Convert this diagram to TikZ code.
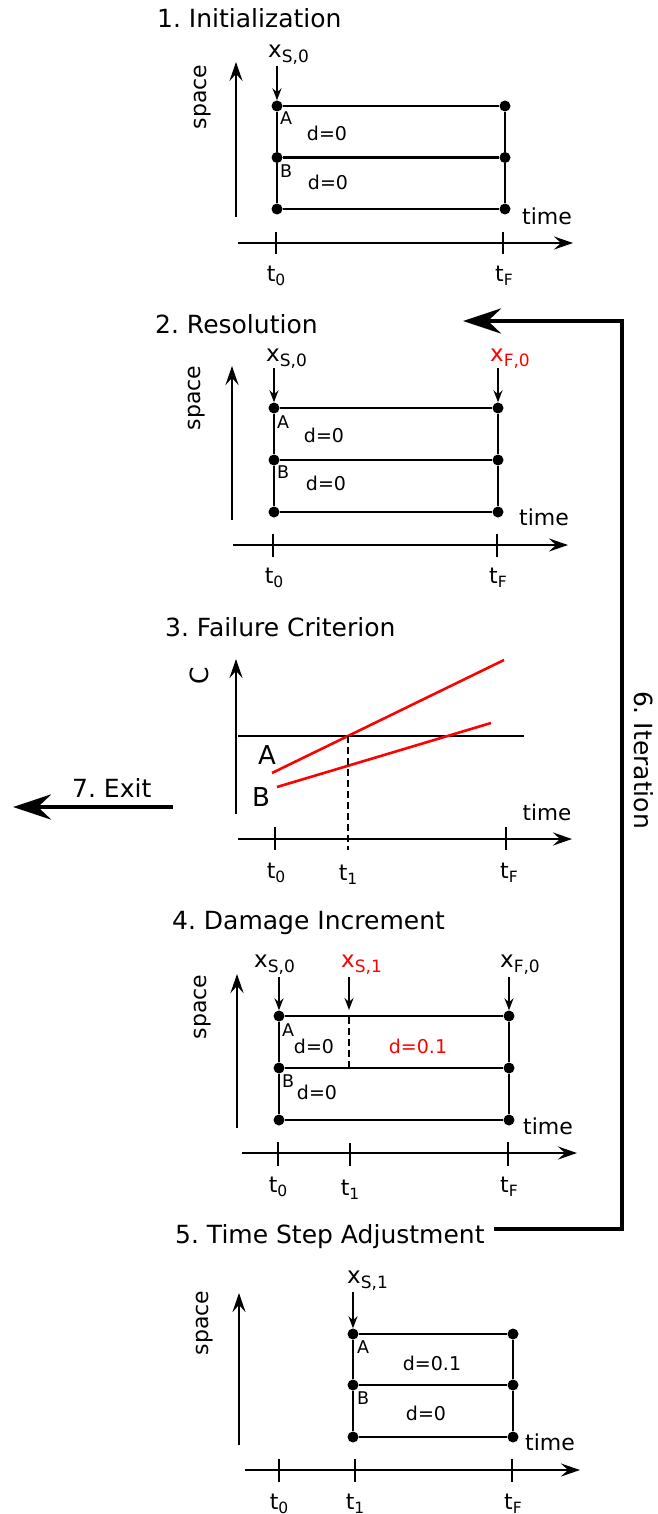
\documentclass[tikz,border=0pt]{standalone}
\usepackage{fontspec}
\setmainfont{DejaVu Sans}
\usetikzlibrary{arrows.meta}
\frenchspacing
\newcommand\sbs[1]{\raisebox{-5pt}{\fontsize{17}{20}\selectfont #1}}
\newcommand\tsb[1]{\raisebox{-4pt}{\fontsize{15.5}{18}\selectfont #1}}
\newcommand\gridbox[6]{%
  \node[pdot] (#1tl) at (#2,#4) {};
  \node[pdot] (#1tr) at (#3,#4) {};
  \node[pdot] (#1ml) at (#2,#5) {};
  \node[pdot] (#1mr) at (#3,#5) {};
  \node[pdot] (#1bl) at (#2,#6) {};
  \node[pdot] (#1br) at (#3,#6) {};
  \draw[ln] (#1tl) -- (#1tr);
  \draw[ln] (#1ml) -- (#1mr);
  \draw[ln] (#1bl) -- (#1br);
  \draw[ln] (#1tl) -- (#1ml) -- (#1bl);
  \draw[ln] (#1tr) -- (#1mr) -- (#1br);
}
\tikzset{
  ln/.style={line width=2.6pt},
  ax/.style={line width=2.6pt,-{Stealth[length=19pt,width=13pt,inset=7pt]}},
  xar/.style={line width=1.8pt,-{Stealth[length=12pt,width=9pt,inset=4pt]}},
  bigarr/.style={line width=4.8pt,-{Stealth[length=38pt,width=25pt,inset=13pt]}},
  pdot/.style={circle,fill,inner sep=0pt,minimum size=11pt},
  ttl/.style={font=\fontsize{25}{30}\selectfont,anchor=base west,inner sep=0pt},
  xl/.style={font=\fontsize{23}{27}\selectfont,anchor=base west,inner sep=0pt},
  tl/.style={font=\fontsize{22}{26}\selectfont,anchor=base,inner sep=0pt},
  axl/.style={font=\fontsize{22}{26}\selectfont,inner sep=0pt},
  dl/.style={font=\fontsize{19}{23}\selectfont,inner sep=0pt},
  pl/.style={font=\fontsize{17.5}{21}\selectfont,inner sep=0pt},
  dsh/.style={line width=2.2pt,dash pattern=on 7pt off 4pt},
  tk/.style={line width=2.6pt},
}
\begin{document}
\begin{tikzpicture}[x=1pt,y=-1pt]
\useasboundingbox (0,0) rectangle (657,1514);

% ---------- Panel 1 ----------
\node[ttl] (t1) at (157,28) {1. Initialization};
\node[xl] (x1s) at (268,58) {x\sbs{S,0}};
\coordinate (a1s) at (277,66);
\gridbox{p1}{277}{505}{106}{157.5}{209}
\draw[xar] (a1s) -- (p1tl);
\coordinate (s1a) at (236,217); \coordinate (s1b) at (236,62);
\draw[ax] (s1a) -- (s1b);
\node[axl,rotate=90] (sp1) at (203,97) {space};
\node[pl] (A1) at (286,118) {A};
\node[dl] (d1a) at (327,133) {d=0};
\node[pl] (B1) at (286,171) {B};
\node[dl] (d1b) at (328,182) {d=0};
\coordinate (h1a) at (238,243); \coordinate (h1b) at (573,243);
\draw[ax] (h1a) -- (h1b);
\draw[tk] (276,232) -- (276,254);
\draw[tk] (503,232) -- (503,254);
\node[tl] (t10) at (276,281) {t\tsb{0}};
\node[tl] (t1F) at (504,281) {t\tsb{F}};
\node[axl] (tm1) at (547,216) {time};

% ---------- Panel 2 ----------
\node[ttl] (t2) at (155,333) {2. Resolution};
\node[xl] (x2s) at (266,361) {x\sbs{S,0}};
\node[xl,text=red] (x2f) at (490,361) {x\sbs{F,0}};
\gridbox{p2}{274}{498}{408}{460}{512}
\coordinate (a2s) at (274,368); \coordinate (a2f) at (498,368);
\draw[xar] (a2s) -- (p2tl);
\draw[xar] (a2f) -- (p2tr);
\coordinate (s2a) at (232,520); \coordinate (s2b) at (232,366);
\draw[ax] (s2a) -- (s2b);
\node[axl,rotate=90] (sp2) at (197,398) {space};
\node[pl] (A2) at (283,422) {A};
\node[dl] (d2a) at (324,435) {d=0};
\node[pl] (B2) at (283,472) {B};
\node[dl] (d2b) at (326,483) {d=0};
\coordinate (h2a) at (233,545); \coordinate (h2b) at (568,545);
\draw[ax] (h2a) -- (h2b);
\draw[tk] (273,534) -- (273,557);
\draw[tk] (497,534) -- (497,557);
\node[tl] (t20) at (274,583) {t\tsb{0}};
\node[tl] (t2F) at (498,583) {t\tsb{F}};
\node[axl] (tm2) at (544,517) {time};

% ---------- Panel 3 ----------
\node[ttl] (t3) at (165,636) {3. Failure Criterion};
\node[font=\fontsize{25}{30}\selectfont,inner sep=0pt,rotate=90] (C3) at (199,676) {C};
\coordinate (s3a) at (236,814); \coordinate (s3b) at (236,659);
\draw[ax] (s3a) -- (s3b);
\coordinate (lim1) at (238,736); \coordinate (lim2) at (524,736);
\draw[ln] (lim1) -- (lim2);
\coordinate (ra1) at (272,773); \coordinate (ra2) at (504,660);
\coordinate (rb1) at (277,787); \coordinate (rb2) at (491,723);
\draw[ln,red] (ra1) -- (ra2);
\draw[ln,red] (rb1) -- (rb2);
\coordinate (dq1) at (348,736); \coordinate (dq2) at (348,850);
\draw[dsh] (dq1) -- (dq2);
\coordinate (h3a) at (238,839); \coordinate (h3b) at (572,839);
\draw[ax] (h3a) -- (h3b);
\draw[tk] (275,827) -- (275,850);
\draw[tk] (506,827) -- (506,850);
\node[tl] (t30) at (276,878) {t\tsb{0}};
\node[tl] (t31) at (348,880) {t\tsb{1}};
\node[tl] (t3F) at (509,878) {t\tsb{F}};
\node[font=\fontsize{21.5}{25}\selectfont,inner sep=0pt] (tm3) at (547,812) {time};
\node[font=\fontsize{26}{30}\selectfont,inner sep=0pt] (A3) at (267,755) {A};
\node[font=\fontsize{26}{30}\selectfont,inner sep=0pt] (B3) at (261,797) {B};

% ---------- Exit ----------
\node[ttl] (ex) at (72,797) {7. Exit};
\coordinate (exa) at (173,807); \coordinate (exb) at (13,807);
\draw[bigarr] (exa) -- (exb);

% ---------- Panel 4 ----------
\node[ttl] (t4) at (172,929) {4. Damage Increment};
\node[xl] (x4s) at (254,967) {x\sbs{S,0}};
\node[xl,text=red] (x4s1) at (341,967) {x\sbs{S,1}};
\node[xl] (x4f) at (500,967) {x\sbs{F,0}};
\gridbox{p4}{279}{509}{1016}{1068}{1120}
\coordinate (a4s) at (279,977); \coordinate (a4m) at (349,977); \coordinate (a4f) at (509,977);
\coordinate (a4me) at (349,1010);
\draw[xar] (a4s) -- (p4tl);
\draw[xar] (a4m) -- (a4me);
\draw[xar] (a4f) -- (p4tr);
\coordinate (dd1) at (349,1017); \coordinate (dd2) at (349,1067);
\draw[dsh] (dd1) -- (dd2);
\coordinate (s4a) at (237,1128); \coordinate (s4b) at (237,974);
\draw[ax] (s4a) -- (s4b);
\node[axl,rotate=90] (sp4) at (203,1007) {space};
\node[pl] (A4) at (288,1030) {A};
\node[dl] (d4a) at (314,1046) {d=0};
\node[dl,text=red] (d4c) at (418,1046) {d=0.1};
\node[pl] (B4) at (288,1081) {B};
\node[dl] (d4b) at (317,1092) {d=0};
\coordinate (h4a) at (242,1153); \coordinate (h4b) at (577,1153);
\draw[ax] (h4a) -- (h4b);
\draw[tk] (278,1142) -- (278,1166);
\draw[tk] (350,1143) -- (350,1166);
\draw[tk] (508,1142) -- (508,1166);
\node[tl] (t40) at (278,1192) {t\tsb{0}};
\node[tl] (t41) at (350,1195) {t\tsb{1}};
\node[tl] (t4F) at (509,1192) {t\tsb{F}};
\node[axl] (tm4) at (548,1126) {time};

% ---------- Panel 5 ----------
\node[ttl] (t5) at (175,1243) {5. Time Step Adjustment};
\node[xl] (x5s) at (347,1283) {x\sbs{S,1}};
\gridbox{p5}{353}{513}{1334}{1385}{1437}
\coordinate (a5s) at (353,1292);
\draw[xar] (a5s) -- (p5tl);
\coordinate (s5a) at (239,1445); \coordinate (s5b) at (239,1293);
\draw[ax] (s5a) -- (s5b);
\node[axl,rotate=90] (sp5) at (205,1323) {space};
\node[pl] (A5) at (363,1347) {A};
\node[dl] (d5a) at (432,1363) {d=0.1};
\node[pl] (B5) at (363,1398) {B};
\node[dl] (d5b) at (426,1413) {d=0};
\coordinate (h5a) at (245,1470); \coordinate (h5b) at (580,1470);
\draw[ax] (h5a) -- (h5b);
\draw[tk] (279,1459) -- (279,1482);
\draw[tk] (355,1459) -- (355,1482);
\draw[tk] (512,1459) -- (512,1482);
\node[tl] (t50) at (279,1509) {t\tsb{0}};
\node[tl] (t51) at (355,1509) {t\tsb{1}};
\node[tl] (t5F) at (513,1509) {t\tsb{F}};
\node[axl] (tm5) at (550,1442) {time};

% ---------- Iteration loop ----------
\coordinate (it0) at (494,1229);
\coordinate (it1) at (622,1229);
\coordinate (it2) at (622,321);
\coordinate (it3) at (463,321);
\draw[bigarr] (it0) -- (it1) -- (it2) -- (it3);
\node[font=\fontsize{25}{30}\selectfont,inner sep=0pt,rotate=-90] (itl) at (644,760) {6. Iteration};
\end{tikzpicture}
\end{document}
